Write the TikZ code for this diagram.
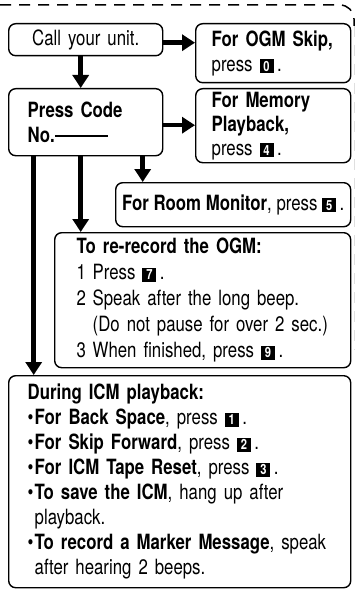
\documentclass[tikz,border=0pt]{standalone}
\usepackage{fontspec}
\setmainfont{TeX Gyre Heros}[FakeStretch=0.8]
\usetikzlibrary{arrows.meta,positioning}

% white digit on a black key
\newcommand{\keycap}[1]{{\setlength{\fboxsep}{2pt}\colorbox{black}{\makebox[10pt]{\textcolor{white}{\fontsize{14}{14}\selectfont\bfseries #1}}}}}
\newcommand{\dotitem}{\makebox[7pt][l]{\textbullet}}
\newcommand{\numitem}[1]{\makebox[16pt][l]{#1}}

\begin{document}
\begin{tikzpicture}[x=1pt, y=-1pt,
  box/.style={draw, line width=1.4pt, rounded corners=7pt, anchor=north west, align=left, inner ysep=0pt, font=\fontsize{21}{25}\selectfont},
  arrow/.style={line width=4.5pt, -{Triangle[width=16pt,length=13pt]}},
  frame/.style={line width=1.5pt, dash pattern=on 11pt off 8pt}
]
  \useasboundingbox (0,0) rectangle (357,591);

  % Dashed frame
  \draw[frame, rounded corners=14pt] (0,5) -- (354,5) -- (354,26);
  \draw[frame, line width=0.6pt, gray!25] (354,26) -- (354,350);

  % Left column
  \node[box, align=center, inner xsep=4pt, text width=146pt, minimum height=32pt] (call) at (8,23) {Call your unit.};
  \node[box, inner xsep=19pt, text width=116pt, minimum height=67pt] (code) at (8,88) {\textbf{Press Code}\\\textbf{No.}\raisebox{0.28em}{\rule{53pt}{1.3pt}}};

  % Right column
  \node[box, inner xsep=16pt, text width=123pt, minimum height=59pt] (ogm) at (195,23) {\textbf{For OGM Skip,}\\press \keycap{0}\,.};
  \node[box, inner xsep=16pt, text width=123pt, minimum height=74pt, font=\fontsize{21}{24}\selectfont] (memory) at (195,88) {\textbf{For Memory}\\\textbf{Playback,}\\press \keycap{4}\,.};

  % Room monitor
  \node[box, inner xsep=3pt, minimum width=235pt, minimum height=44pt] (room) at (115,182) {\textbf{For Room Monitor}, press \keycap{5}\,.};

  % Re-record
  \node[box, inner xsep=22pt, text width=252pt, minimum height=135pt, font=\fontsize{21}{26}\selectfont] (rerecord) at (54,232) {\textbf{To re-record the OGM:}\\
    \numitem{1}Press \keycap{7}\,.\\
    \numitem{2}Speak after the long beep.\\
    \numitem{}(Do not pause for over 2 sec.)\\
    \numitem{3}When finished, press \keycap{9}\,.};

  % ICM playback
  \node[box, inner xsep=19pt, text width=304pt, minimum height=212pt] (icm) at (8,375) {\textbf{During ICM playback:}\\
    \dotitem\textbf{For Back Space}, press \keycap{1}\,.\\
    \dotitem\textbf{For Skip Forward}, press \keycap{2}\,.\\
    \dotitem\textbf{For ICM Tape Reset}, press \keycap{3}\,.\\
    \dotitem\textbf{To save the ICM}, hang up after\\
    \hspace*{7pt}playback.\\
    \dotitem\textbf{To record a Marker Message}, speak\\
    \hspace*{7pt}after hearing 2 beeps.};

  % Arrows
  \draw[arrow] ([yshift=-3pt]call.east) -- ([yshift=-3pt]call.east -| ogm.west);
  \draw[arrow] ([xshift=-5pt]call.south) -- ([xshift=-5pt]call.south |- code.north);
  \draw[arrow] ([yshift=-3pt]code.east) -- ([yshift=-3pt]code.east -| memory.west);
  \draw[arrow] ([xshift=57pt]code.south) -- ([xshift=57pt]code.south |- room.north);
  \draw[arrow] ([xshift=-5pt]code.south) -- ([xshift=-5pt]code.south |- rerecord.north);
  \draw[arrow] ([xshift=-52pt]code.south) -- ([xshift=-52pt]code.south |- icm.north);
\end{tikzpicture}
\end{document}
